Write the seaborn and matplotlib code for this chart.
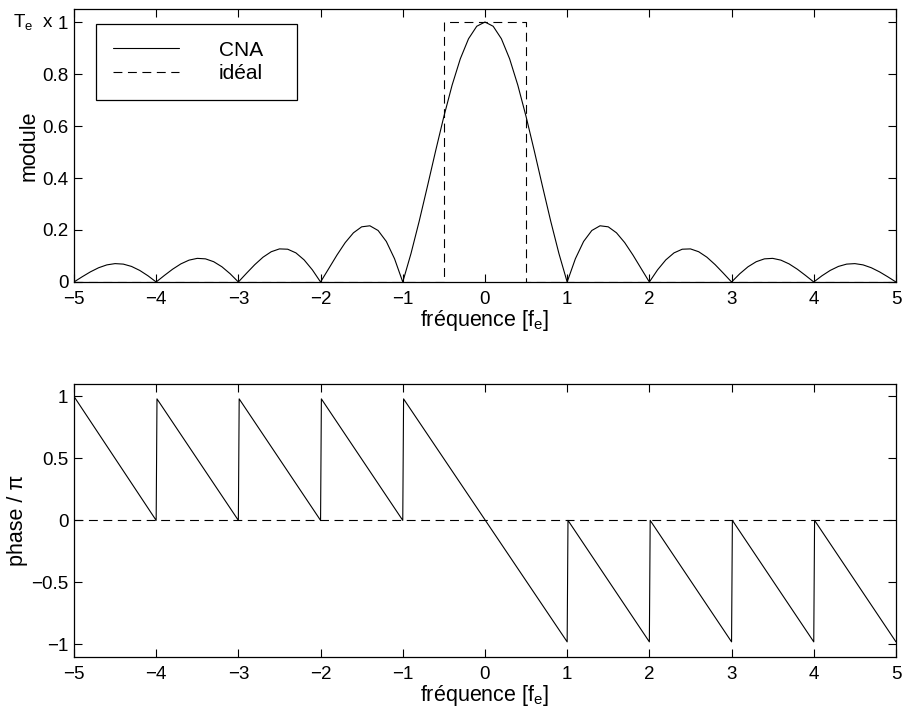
import numpy as np
import pandas as pd
import matplotlib
matplotlib.use("Agg")
import matplotlib.pyplot as plt
import seaborn as sns

# Frequency axis in units of the sampling frequency f_e
freq = [round(-5 + 0.1 * i, 1) for i in range(101)]

# Magnitude response of the DAC (zero-order hold), in units of T_e
module_cna = [
    0.0, 0.0201, 0.0390, 0.0548, 0.0658, 0.0707, 0.0688, 0.0599, 0.0445, 0.0240,
    0.0, 0.0252, 0.0492, 0.0696, 0.0841, 0.0909, 0.0890, 0.0780, 0.0585, 0.0317,
    0.0, 0.0339, 0.0668, 0.0954, 0.1164, 0.1273, 0.1261, 0.1120, 0.0850, 0.0468,
    0.0, 0.0518, 0.1039, 0.1515, 0.1892, 0.2122, 0.2162, 0.1981, 0.1559, 0.0894,
    0.0, 0.1093, 0.2339, 0.3679, 0.5046, 0.6366, 0.7568, 0.8584, 0.9355, 0.9836,
    1.0,
    0.9836, 0.9355, 0.8584, 0.7568, 0.6366, 0.5046, 0.3679, 0.2339, 0.1093, 0.0,
    0.0894, 0.1559, 0.1981, 0.2162, 0.2122, 0.1892, 0.1515, 0.1039, 0.0518, 0.0,
    0.0468, 0.0850, 0.1120, 0.1261, 0.1273, 0.1164, 0.0954, 0.0668, 0.0339, 0.0,
    0.0317, 0.0585, 0.0780, 0.0890, 0.0909, 0.0841, 0.0696, 0.0492, 0.0252, 0.0,
    0.0240, 0.0445, 0.0599, 0.0688, 0.0707, 0.0658, 0.0548, 0.0390, 0.0201, 0.0,
]

# Ideal reconstruction filter (rectangular window of width f_e)
ideal_f = [-5, -0.5, -0.5, 0.5, 0.5, 5]
ideal_module = [0, 0, 1, 1, 0, 0]

# Phase response of the DAC, in units of pi (sawtooth with jumps at integers)
phase_f = [-5, -4, -3.99, -3, -2.99, -2, -1.99, -1, -0.99, 1,
           1.01, 2, 2.01, 3, 3.01, 4, 4.01, 5]
phase_cna = [1, 0, 0.98, 0, 0.98, 0, 0.98, 0, 0.98, -0.98,
             0, -0.98, 0, -0.98, 0, -0.98, 0, -0.98]

# Ideal phase (zero)
ideal_phase_f = [-5, 5]
ideal_phase = [0, 0]

xticks = [-5, -4, -3, -2, -1, 0, 1, 2, 3, 4, 5]
xtick_labels = ["\u22125", "\u22124", "\u22123", "\u22122", "\u22121", "0", "1", "2", "3", "4", "5"]
yticks_mod = [0, 0.2, 0.4, 0.6, 0.8, 1]
ytick_labels_mod = ["0", "0.2", "0.4", "0.6", "0.8", "1"]
yticks_phase = [-1, -0.5, 0, 0.5, 1]
ytick_labels_phase = ["\u22121", "\u22120.5", "0", "0.5", "1"]

TICK_FS = 13.5
LABEL_FS = 15.5

sns.set_style("ticks")
plt.rcParams["font.family"] = ["Liberation Sans", "DejaVu Sans"]
plt.rcParams.update({
    "font.size": TICK_FS,
    "mathtext.fontset": "custom",
    "mathtext.rm": "Liberation Sans",
    "mathtext.it": "Liberation Sans",
    "xtick.direction": "in",
    "ytick.direction": "in",
    "xtick.top": True,
    "ytick.right": True,
    "xtick.major.size": 5.5,
    "ytick.major.size": 5.5,
    "xtick.major.width": 0.8,
    "ytick.major.width": 0.8,
    "axes.linewidth": 0.9,
    "axes.edgecolor": "black",
    "xtick.color": "black",
    "ytick.color": "black",
    "text.color": "black",
    "axes.labelcolor": "black",
})

fig = plt.figure(figsize=(9.02, 7.15), dpi=100)
ax1 = fig.add_axes([0.0820, 0.6056, 0.9113, 0.3818])
ax2 = fig.add_axes([0.0820, 0.0815, 0.9113, 0.3814])

dash = (0, (8, 5))
lw = 0.8

df_mod = pd.DataFrame({"f": freq, "m": module_cna})
df_ideal = pd.DataFrame({"f": ideal_f, "m": ideal_module})
sns.lineplot(data=df_mod, x="f", y="m", ax=ax1, color="black", lw=lw,
             sort=False, estimator=None, label="CNA")
sns.lineplot(data=df_ideal, x="f", y="m", ax=ax1, color="black", lw=lw,
             sort=False, estimator=None, label="idéal", linestyle=dash)

df_ph = pd.DataFrame({"f": phase_f, "p": phase_cna})
df_ph_ideal = pd.DataFrame({"f": ideal_phase_f, "p": ideal_phase})
sns.lineplot(data=df_ph, x="f", y="p", ax=ax2, color="black", lw=lw,
             sort=False, estimator=None, legend=False)
sns.lineplot(data=df_ph_ideal, x="f", y="p", ax=ax2, color="black", lw=lw,
             sort=False, estimator=None, legend=False, linestyle=dash)

for ax in (ax1, ax2):
    ax.set_xlim(-5, 5)
    ax.set_xticks(xticks)
    ax.set_xticklabels(xtick_labels)
    ax.set_xlabel("fréquence [f$_\\mathregular{e}$]", fontsize=LABEL_FS, labelpad=0)
    ax.tick_params(axis="x", labelsize=TICK_FS, pad=6.5)
    ax.tick_params(axis="y", labelsize=TICK_FS, pad=4)
    for s in ax.spines.values():
        s.set_visible(True)

ax1.set_ylim(0, 1.05)
ax1.set_yticks(yticks_mod)
ax1.set_yticklabels(ytick_labels_mod)
ax1.set_ylabel("module", fontsize=LABEL_FS, labelpad=2)

ax2.set_ylim(-1.1, 1.1)
ax2.set_yticks(yticks_phase)
ax2.set_yticklabels(ytick_labels_phase)
ax2.set_ylabel("phase / \u03c0", fontsize=LABEL_FS, labelpad=2)

fig.text(13 / 902, 1 - 22 / 715, "T$_\\mathregular{e}$  x", ha="left", va="center",
         fontsize=TICK_FS)

# Legend box spans a fixed region in the upper-left corner of the top panel
leg = ax1.legend(loc="upper left", bbox_to_anchor=(0.0268, 0.670, 0.2445, 0.275),
                 mode="expand", borderaxespad=0,
                 frameon=True, fancybox=False, shadow=False, framealpha=1,
                 edgecolor="black", handlelength=3.2, handletextpad=1.9,
                 borderpad=0.8, labelspacing=0.22, fontsize=15)
leg.get_frame().set_linewidth(0.9)

fig.savefig("out.png", dpi=100)
